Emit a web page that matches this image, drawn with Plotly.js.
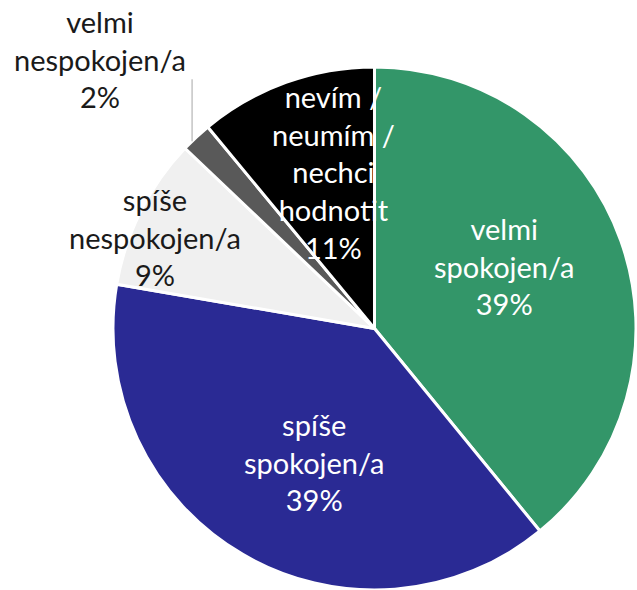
<!DOCTYPE html>
<html>
<head>
<meta charset="utf-8">
<script src="https://cdn.plot.ly/plotly-3.0.1.min.js"></script>
<style>
  html, body { margin: 0; padding: 0; background: #fff; }
  #chart { width: 637px; height: 590px; }
</style>
</head>
<body>
<div id="chart"></div>
<script>
// Answers, clockwise from 12 o'clock
const LABELS = [
    'velmi spokojen/a',
    'spíše spokojen/a',
    'spíše nespokojen/a',
    'velmi nespokojen/a',
    'nevím / neumím / nechci hodnotit'
];
const VALUES = [39.1, 38.6, 9.4, 1.9, 11.0];
const PERCENTS = ['39%', '39%', '9%', '2%', '11%'];
// label text split into lines as in the original
const LABEL_LINES = [
    ['velmi', 'spokojen/a'],
    ['spíše', 'spokojen/a'],
    ['spíše', 'nespokojen/a'],
    ['velmi', 'nespokojen/a'],
    ['nevím /', 'neumím /', 'nechci', 'hodnotit']
];

const COLORS = ['#339669', '#2a2a94', '#f0f0f0', '#595959', '#000000'];
const TEXT_COLORS = ['#ffffff', '#ffffff', '#1a1a1a', '#1a1a1a', '#ffffff'];

// Label placement: [angle shift in deg, radius fraction], null radius = outside
const LABEL_POS = [
    [-6, 0.55],
    [-6, 0.56],
    [-4, 0.91],
    [0, null],
    [5, 0.62]
];

const W = 637, H = 590;
const dom = { x: [0.1758, 1], y: [0, 0.8865] };

// Pie geometry in px (plotly uses min of domain box)
const boxW = (dom.x[1] - dom.x[0]) * W;
const boxH = (dom.y[1] - dom.y[0]) * H;
const R = Math.min(boxW, boxH) / 2;
const CX = (dom.x[0] + dom.x[1]) / 2 * W;
const CY = H - (dom.y[0] + dom.y[1]) / 2 * H;

const total = VALUES.reduce((a, b) => a + b, 0);
const annotations = [];
const shapes = [];
let cum = 0;
VALUES.forEach((v, i) => {
    const mid = (cum + v / 2) / total * 360;
    cum += v;
    const text = LABEL_LINES[i].concat([PERCENTS[i]]).join('<br>');
    const [shift, rf] = LABEL_POS[i];
    let px, py;
    if (rf === null) {
        // outside label with leader line going straight up
        const a = mid * Math.PI / 180;
        const ex = CX + Math.sin(a) * R - 4;
        const ey = CY - Math.cos(a) * R;
        shapes.push({
            type: 'line', xref: 'paper', yref: 'paper',
            x0: ex / W, y0: 1 - (ey + 4) / H,
            x1: ex / W, y1: 1 - (ey - 58) / H,
            line: { color: '#a6a6a6', width: 1 }
        });
        px = ex - 92;
        py = ey - 78;
    } else {
        const a = (mid + shift) * Math.PI / 180;
        px = CX + Math.sin(a) * R * rf;
        py = CY - Math.cos(a) * R * rf;
    }
    annotations.push({
        text: text,
        xref: 'paper', yref: 'paper',
        x: px / W, y: 1 - py / H,
        xanchor: 'center', yanchor: 'middle',
        showarrow: false,
        font: { family: 'Lato, sans-serif', size: 29, color: TEXT_COLORS[i] }
    });
});

const trace = {
    type: 'pie',
    labels: LABELS,
    values: VALUES,
    sort: false,
    direction: 'clockwise',
    rotation: 0,
    textinfo: 'none',
    hoverinfo: 'label+percent',
    marker: { colors: COLORS, line: { color: '#ffffff', width: 3 } },
    domain: dom
};

const layout = {
    width: W,
    height: H,
    margin: { l: 0, r: 0, t: 0, b: 0 },
    paper_bgcolor: '#ffffff',
    showlegend: false,
    annotations: annotations,
    shapes: shapes
};

Plotly.newPlot('chart', [trace], layout, { displayModeBar: false, staticPlot: true });
</script>
</body>
</html>
